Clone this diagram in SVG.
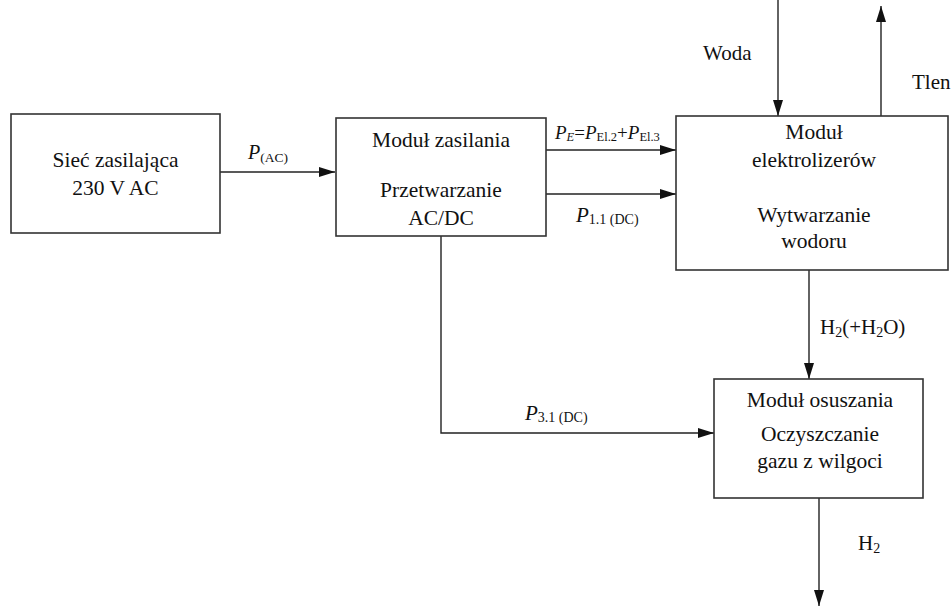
<svg xmlns="http://www.w3.org/2000/svg" width="952" height="606" viewBox="0 0 952 606" font-family="Liberation Serif">
<style>
.box{fill:#fff;stroke:#333;stroke-width:1.6}
.ln{fill:none;stroke:#222;stroke-width:1.4}
text, tspan{font-family:"Liberation Serif",serif}
text{fill:#111}
.t{font-size:21.5px;text-anchor:middle}
.l{font-size:21px}
.i{font-style:italic}
</style>
<defs>
<marker id="ah" markerUnits="userSpaceOnUse" markerWidth="17" markerHeight="11" refX="16" refY="5" orient="auto" viewBox="0 0 17 11">
<path d="M0,0 L16,5 L0,10 Z" fill="#111"/>
</marker>
</defs>
<g id="connectors">
<line class="ln" x1="220" y1="172" x2="335" y2="172" marker-end="url(#ah)"/>
<line class="ln" x1="546" y1="150" x2="676" y2="150" marker-end="url(#ah)"/>
<line class="ln" x1="546" y1="194" x2="676" y2="194" marker-end="url(#ah)"/>
<polyline class="ln" points="441,236 441,433 714,433" marker-end="url(#ah)"/>
<line class="ln" x1="778" y1="0" x2="778" y2="116" marker-end="url(#ah)"/>
<line class="ln" x1="881" y1="116" x2="881" y2="6" marker-end="url(#ah)"/>
<line class="ln" x1="809" y1="270" x2="809" y2="379" marker-end="url(#ah)"/>
<line class="ln" x1="819" y1="498" x2="819" y2="606" marker-end="url(#ah)"/>
<text x="248" y="158.5" font-size="20"><tspan class="i">P</tspan><tspan font-size="13.5" dy="3">(AC)</tspan></text>
<text x="555" y="139" font-size="19"><tspan class="i">P</tspan><tspan class="i" font-size="12.5" dy="2">E</tspan><tspan dy="-2">=</tspan><tspan class="i">P</tspan><tspan font-size="12.5" dy="2">El.2</tspan><tspan dy="-2">+</tspan><tspan class="i">P</tspan><tspan font-size="12.5" dy="2">El.3</tspan></text>
<text x="576" y="221.5" font-size="21"><tspan class="i">P</tspan><tspan font-size="14" dy="2">1.1 (DC)</tspan></text>
<text x="525" y="419.5" font-size="21"><tspan class="i">P</tspan><tspan font-size="14" dy="2">3.1 (DC)</tspan></text>
<text class="l" x="703" y="60">Woda</text>
<text class="l" x="912" y="89">Tlen</text>
<text class="l" x="820" y="334">H<tspan font-size="14" dy="3">2</tspan><tspan dy="-3">(+H</tspan><tspan font-size="14" dy="3">2</tspan><tspan dy="-3">O)</tspan></text>
<text class="l" x="858" y="550">H<tspan font-size="14" dy="3">2</tspan></text>
</g>
<g id="siec">
<rect class="box" x="11" y="114" width="209" height="119"/>
<text class="t" x="115.5" y="166.5">Sieć zasilająca</text>
<text class="t" x="115.5" y="195">230 V AC</text>
</g>
<g id="modul-zasilania">
<rect class="box" x="336" y="118" width="210" height="118"/>
<text class="t" x="441" y="146.5">Moduł zasilania</text>
<text class="t" x="441" y="197">Przetwarzanie</text>
<text class="t" x="441" y="225">AC/DC</text>
</g>
<g id="modul-elektrolizerow">
<rect class="box" x="676" y="116" width="272" height="154"/>
<text class="t" x="814" y="139">Moduł</text>
<text class="t" x="814" y="166.5">elektrolizerów</text>
<text class="t" x="814" y="221.5">Wytwarzanie</text>
<text class="t" x="814" y="248">wodoru</text>
</g>
<g id="modul-osuszania">
<rect class="box" x="714" y="379" width="209" height="119"/>
<text class="t" x="820" y="406.5">Moduł osuszania</text>
<text class="t" x="820" y="440.5">Oczyszczanie</text>
<text class="t" x="820" y="468">gazu z wilgoci</text>
</g>
</svg>
